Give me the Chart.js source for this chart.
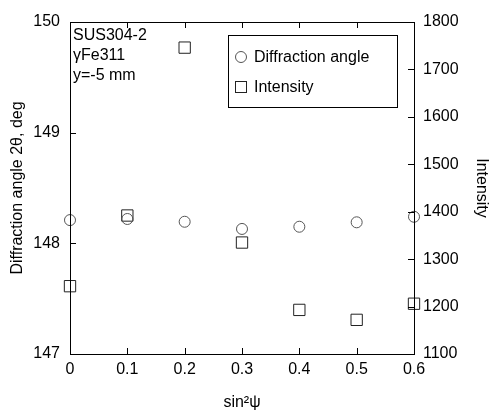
<!DOCTYPE html>
<html lang="en">
<head>
    <meta charset="UTF-8">
    <title>Diffraction angle and intensity</title>
    <script src="https://cdn.jsdelivr.net/npm/chart.js"></script>
    <style>
        body {
            margin: 0;
            background-color: #ffffff;
        }
        canvas {
            display: block;
        }
    </style>
</head>
<body>
    <canvas id="xrdChart" width="491" height="416"></canvas>
    <script>
        // values
        const sin2psi = [0, 0.1, 0.2, 0.3, 0.4, 0.5, 0.6];
        const diffAngle = [148.21, 148.22, 148.195, 148.13, 148.15, 148.19, 148.24];
        const intensity = [1243, 1392, 1746, 1335, 1193, 1172, 1206];

        const xTicks = [0, 0.1, 0.2, 0.3, 0.4, 0.5, 0.6];
        const angleTicks = [147, 148, 149, 150];
        const intensityTicks = [1100, 1200, 1300, 1400, 1500, 1600, 1700, 1800];
        const noteLines = ['SUS304-2', '\u03B3Fe311', 'y=-5 mm'];
        const seriesNames = ['Diffraction angle', 'Intensity'];

        const FONT = 'Liberation Sans, Arial, Helvetica, sans-serif';

        // frame, inward ticks, note text and legend box
        const framePlugin = {
            id: 'frame',
            afterDatasetsDraw(chart) {
                const ctx = chart.ctx;
                const a = chart.chartArea;
                const x = chart.scales.x, y = chart.scales.y, y1 = chart.scales.y1;
                const tl = 6;
                ctx.save();
                ctx.strokeStyle = '#000';
                ctx.lineWidth = 1;
                ctx.strokeRect(Math.round(a.left) + 0.5, Math.round(a.top) + 0.5,
                    Math.round(a.right - a.left), Math.round(a.bottom - a.top));
                ctx.beginPath();
                xTicks.forEach(v => {
                    const px = Math.round(x.getPixelForValue(v)) + 0.5;
                    ctx.moveTo(px, a.bottom); ctx.lineTo(px, a.bottom - tl);
                    ctx.moveTo(px, a.top); ctx.lineTo(px, a.top + tl);
                });
                angleTicks.forEach(v => {
                    const py = Math.round(y.getPixelForValue(v)) + 0.5;
                    ctx.moveTo(a.left, py); ctx.lineTo(a.left + tl, py);
                });
                intensityTicks.forEach(v => {
                    const py = Math.round(y1.getPixelForValue(v)) + 0.5;
                    ctx.moveTo(a.right, py); ctx.lineTo(a.right - tl, py);
                });
                ctx.stroke();

                // note in upper left corner
                ctx.fillStyle = '#000';
                ctx.font = '16px ' + FONT;
                ctx.textBaseline = 'middle';
                ctx.textAlign = 'left';
                noteLines.forEach((t, i) => ctx.fillText(t, a.left + 3, a.top + 14 + i * 20));

                // legend
                const lx = 228, ly = 35, lw = 169, lh = 72;
                ctx.fillStyle = '#fff';
                ctx.fillRect(lx, ly, lw, lh);
                ctx.strokeRect(lx + 0.5, ly + 0.5, lw, lh);
                ctx.strokeStyle = '#555';
                ctx.beginPath();
                ctx.arc(241, 57, 5.5, 0, Math.PI * 2);
                ctx.stroke();
                ctx.strokeStyle = '#222';
                ctx.strokeRect(235.5, 81.5, 11, 11);
                ctx.fillStyle = '#000';
                seriesNames.forEach((t, i) => ctx.fillText(t, 254, 58 + i * 30));
                ctx.restore();
            }
        };

        const ctx = document.getElementById('xrdChart').getContext('2d');
        new Chart(ctx, {
            type: 'scatter',
            data: {
                datasets: [
                    {
                        label: seriesNames[0],
                        data: sin2psi.map((v, i) => ({ x: v, y: diffAngle[i] })),
                        yAxisID: 'y',
                        pointStyle: 'circle',
                        pointRadius: 5.5,
                        borderColor: '#555',
                        backgroundColor: 'rgba(0,0,0,0)',
                        borderWidth: 1,
                        clip: false
                    },
                    {
                        label: seriesNames[1],
                        data: sin2psi.map((v, i) => ({ x: v, y: intensity[i] })),
                        yAxisID: 'y1',
                        pointStyle: 'rect',
                        pointRadius: 8,
                        borderColor: '#222',
                        backgroundColor: 'rgba(0,0,0,0)',
                        borderWidth: 1,
                        clip: false
                    }
                ]
            },
            options: {
                responsive: false,
                animation: false,
                layout: { padding: { top: 22, left: 0, right: 0, bottom: 0 } },
                plugins: {
                    legend: { display: false },
                    tooltip: { enabled: false }
                },
                scales: {
                    x: {
                        type: 'linear',
                        min: 0,
                        max: 0.6,
                        afterFit: s => { s.height = 62; },
                        afterBuildTicks: s => { s.ticks = xTicks.map(v => ({ value: v })); },
                        grid: { display: false, drawTicks: false },
                        border: { display: false },
                        ticks: {
                            padding: 6,
                            color: '#000',
                            font: { family: FONT, size: 16 },
                            callback: v => String(v)
                        },
                        title: {
                            display: true,
                            text: 'sin\u00B2\u03C8',
                            color: '#000',
                            font: { family: FONT, size: 16 },
                            padding: { top: 5 }
                        }
                    },
                    y: {
                        position: 'left',
                        min: 147,
                        max: 150,
                        afterFit: s => { s.width = 70; },
                        afterBuildTicks: s => { s.ticks = angleTicks.map(v => ({ value: v })); },
                        grid: { display: false, drawTicks: false },
                        border: { display: false },
                        ticks: {
                            padding: 10,
                            color: '#000',
                            font: { family: FONT, size: 16 },
                            callback: v => String(v)
                        },
                        title: {
                            display: true,
                            text: 'Diffraction angle 2\u03B8, deg',
                            color: '#000',
                            font: { family: FONT, size: 16 },
                            padding: { top: 8, bottom: 0 }
                        }
                    },
                    y1: {
                        position: 'right',
                        min: 1100,
                        max: 1800,
                        afterFit: s => { s.width = 77; },
                        afterBuildTicks: s => { s.ticks = intensityTicks.map(v => ({ value: v })); },
                        grid: { display: false, drawTicks: false },
                        border: { display: false },
                        ticks: {
                            padding: 9,
                            color: '#000',
                            font: { family: FONT, size: 16 },
                            callback: v => String(v)
                        },
                        title: {
                            display: true,
                            text: 'Intensity',
                            color: '#000',
                            font: { family: FONT, size: 16 },
                            padding: { top: 0, bottom: 0 }
                        }
                    }
                }
            },
            plugins: [framePlugin]
        });
    </script>
</body>
</html>
